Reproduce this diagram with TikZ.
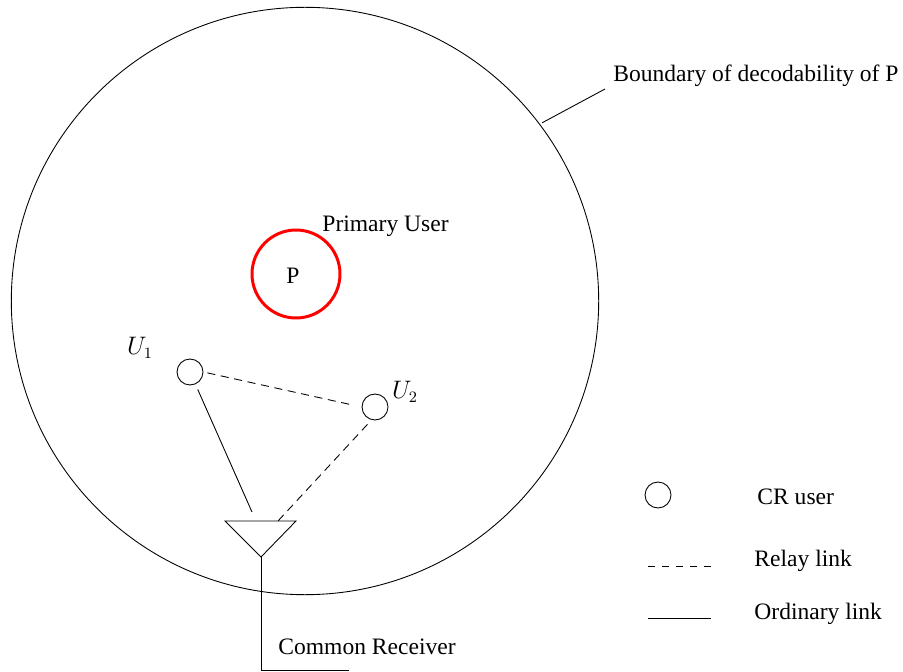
\documentclass[tikz,border=0pt]{standalone}
\usepackage{fontspec}
\setmainfont{Liberation Serif}
\tikzset{
    usernode/.style={circle, draw, inner sep=0pt, minimum size=.52cm},
    labeltext/.style={inner sep=0pt, font=\fontsize{13.4}{16}\selectfont},
    relaylink/.style={dash pattern=on 4.6pt off 3.2pt}
}
\begin{document}
\begin{tikzpicture}[x=.02cm, y=-.02cm, line width=.5pt]
\useasboundingbox (0,0) rectangle (903,672);
\node[circle, draw, inner sep=0pt, minimum size=11.75cm](boundary) at (305,301){};
\node[circle, draw=red, line width=1.7pt, inner sep=0pt, minimum size=1.76cm](primary) at (296,274){};
\node[labeltext](ptext) at (293,276){P};
\node[labeltext, anchor=west](primarytext) at (322,226){Primary User};
\node[labeltext, anchor=west](boundarytext) at (613,76){Boundary of decodability of P};
\coordinate(boundaryend) at (605,89);
\draw[shorten <=1.5pt](boundary.37)--(boundaryend);
\node[usernode](uone) at (190,372){};
\node[usernode](utwo) at (375,407){};
\node[labeltext](uonetext) at (140,348){$U_1$};
\node[labeltext](utwotext) at (405,392){$U_2$};
\coordinate(apexleft) at (225,521);
\coordinate(apexright) at (296,521);
\coordinate(apexbottom) at (261,557);
\draw(apexleft)--(apexright)--(apexbottom)--cycle;
\coordinate(stemcorner) at (261,670);
\coordinate(stemend) at (349,670);
\draw(apexbottom)--(stemcorner)--(stemend);
\node[labeltext, anchor=west](receivertext) at (278,647){Common Receiver};
\coordinate(solidend) at (252,512);
\coordinate(dashedend) at (278,521);
\draw[shorten <=3.2pt](uone)--(solidend);
\draw[relaylink, shorten <=2.3pt, shorten >=5pt](uone.east)--(utwo.west);
\draw[relaylink, shorten <=3.4pt](utwo.-105)--(dashedend);
\node[usernode](legenduser) at (658,495){};
\node[labeltext, anchor=west](legendusertext) at (757,497){CR user};
\coordinate(relaystart) at (648,566);
\coordinate(relayend) at (711,566);
\draw[dash pattern=on 3.7pt off 4.3pt](relaystart)--(relayend);
\node[labeltext, anchor=west](relaytext) at (754,561){Relay link};
\coordinate(linkstart) at (648,618);
\coordinate(linkend) at (711,618);
\draw(linkstart)--(linkend);
\node[labeltext, anchor=west](linktext) at (754,614){Ordinary link};
\end{tikzpicture}
\end{document}
